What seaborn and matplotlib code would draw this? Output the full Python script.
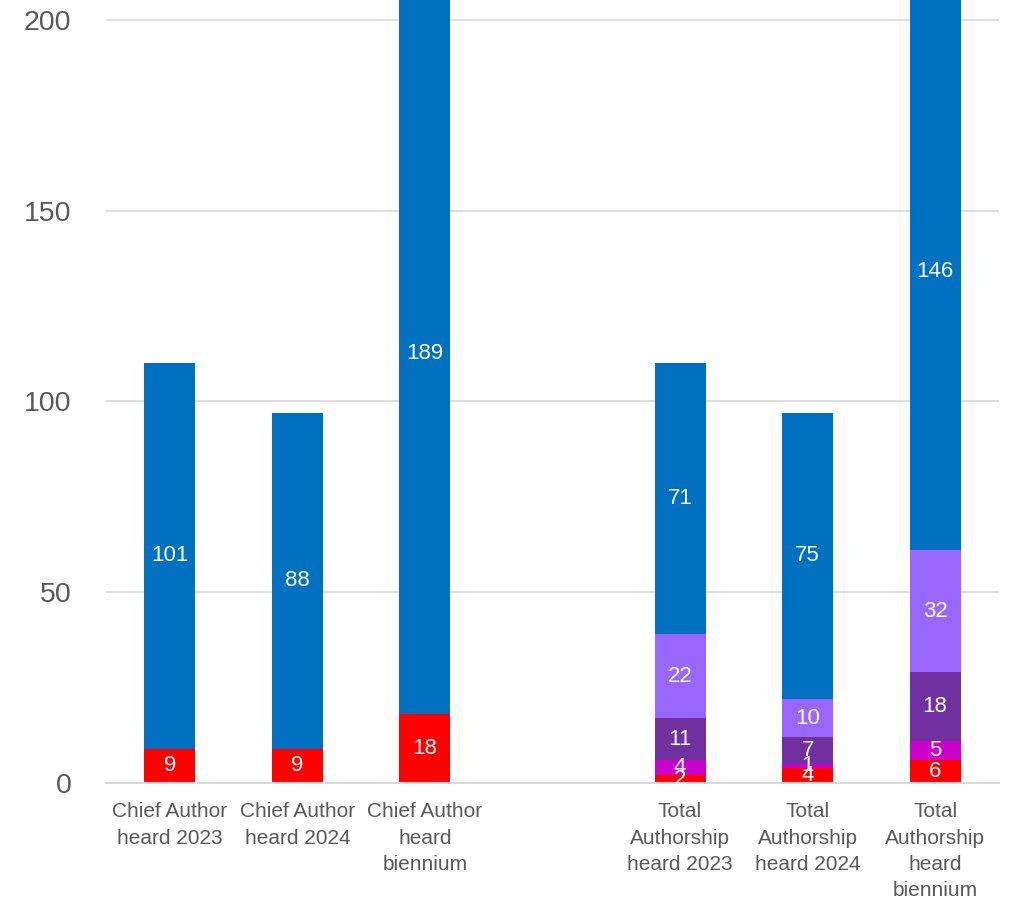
import numpy as np
import pandas as pd
import matplotlib
matplotlib.use('Agg')
import matplotlib.pyplot as plt
import seaborn as sns

categories = ['Chief Author\nheard 2023', 'Chief Author\nheard 2024', 'Chief Author\nheard\nbiennium',
              ' ',
              'Total\nAuthorship\nheard 2023', 'Total\nAuthorship\nheard 2024', 'Total\nAuthorship\nheard\nbiennium']
bar_cats = [c for c in categories if c.strip()]

# stack segments, bottom to top
red = [9, 9, 18, 2, 4, 6]
magenta = [0, 0, 0, 4, 1, 5]
dark_purple = [0, 0, 0, 11, 7, 18]
light_purple = [0, 0, 0, 22, 10, 32]
blue = [101, 88, 189, 71, 75, 146]

layers = [red, magenta, dark_purple, light_purple, blue]
colors = ['#FF0000', '#CC00CC', '#7030A0', '#9966FF', '#0070C0']

sns.set_style('white')
plt.rcParams['font.family'] = ['Liberation Sans', 'DejaVu Sans']

fig = plt.figure(figsize=(10.1, 8.99), dpi=100)
ax = fig.add_axes([0.105, 0.129, 0.884, 0.871])

cum = np.cumsum(np.array(layers), axis=0)
# draw from the top of the stack down so lower layers cover upper ones
for i in range(len(layers) - 1, -1, -1):
    df = pd.DataFrame({'cat': bar_cats, 'val': cum[i]})
    sns.barplot(data=df, x='cat', y='val', order=categories, color=colors[i],
                saturation=1, width=0.4, linewidth=0, ax=ax, zorder=2)

# segment labels
for j, cat in enumerate(bar_cats):
    xpos = categories.index(cat)
    for i, layer in enumerate(layers):
        v = layer[j]
        if v == 0:
            continue
        base = cum[i][j] - v
        ax.text(xpos, base + v / 2, str(v), ha='center', va='center',
                color='white', fontsize=16, zorder=3)

ax.set_ylim(0, 205.2)
ax.set_xlim(-0.5, 6.5)
ax.set_yticks([0, 50, 100, 150, 200])
ax.yaxis.grid(True, color='#D9D9D9', linewidth=1.2, zorder=0)
ax.set_axisbelow(True)
ax.set_xlabel('')
ax.set_ylabel('')
for s in ['top', 'right', 'left']:
    ax.spines[s].set_visible(False)
ax.spines['bottom'].set_color('#D9D9D9')
ax.spines['bottom'].set_linewidth(1.5)
ax.tick_params(axis='y', length=0, labelsize=20.5, labelcolor='#595959', pad=25)
ax.tick_params(axis='x', length=0, labelsize=15, labelcolor='#595959', pad=14)
for lab in ax.get_xticklabels():
    lab.set_linespacing(1.48)

fig.savefig('out.png', dpi=100)
